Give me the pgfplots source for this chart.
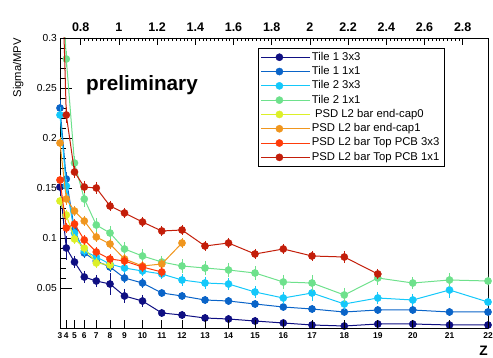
\documentclass[border=0pt]{standalone}
\usepackage{fontspec}
\setmainfont{Liberation Sans}
\usepackage{pgfplots}
\usepackage{pgfplotstable}
\pgfplotsset{compat=1.18}

\definecolor{cNavy}{RGB}{15,15,130}
\definecolor{cBlue}{RGB}{10,100,200}
\definecolor{cCyan}{RGB}{20,200,250}
\definecolor{cGreen}{RGB}{110,225,140}
\definecolor{cYellow}{RGB}{220,240,40}
\definecolor{cOrange}{RGB}{240,150,30}
\definecolor{cRedOr}{RGB}{255,60,10}
\definecolor{cDkRed}{RGB}{195,30,10}

% x = position of each Z on the horizontal axis (Z = 3 ... 22)
\pgfplotstableread{
x y e
60 0.151 0.004
66.3 0.090 0.010
74.5 0.076 0.004
84.3 0.061 0.004
96.3 0.057 0.004
110 0.054 0.009
124.5 0.042 0.005
142.5 0.037 0.004
161.8 0.025 0.002
182 0.023 0.002
205 0.020 0.002
228.5 0.019 0.002
255 0.017 0.002
283.3 0.015 0.002
312 0.013 0.002
344.3 0.012 0.002
377.8 0.014 0.002
412.8 0.014 0.002
449.5 0.013 0.002
488 0.013 0.002
}\tA
\pgfplotstableread{
x y e
60 0.230 0.006
66.3 0.159 0.005
74.5 0.108 0.004
84.3 0.085 0.003
96.3 0.077 0.003
110 0.071 0.003
124.5 0.060 0.003
142.5 0.055 0.003
161.8 0.045 0.002
182 0.042 0.002
205 0.038 0.002
228.5 0.037 0.002
255 0.034 0.002
283.3 0.031 0.002
312 0.029 0.002
344.3 0.026 0.002
377.8 0.028 0.002
412.8 0.028 0.002
449.5 0.026 0.002
488 0.026 0.002
}\tB
\pgfplotstableread{
x y e
60 0.223 0.006
66.3 0.152 0.005
74.5 0.105 0.004
84.3 0.087 0.003
96.3 0.081 0.003
110 0.074 0.003
124.5 0.070 0.003
142.5 0.067 0.003
161.8 0.064 0.003
182 0.058 0.004
205 0.055 0.004
228.5 0.054 0.004
255 0.046 0.004
283.3 0.040 0.004
312 0.045 0.006
344.3 0.034 0.004
377.8 0.040 0.004
412.8 0.038 0.004
449.5 0.048 0.006
488 0.036 0.004
}\tC
\pgfplotstableread{
x y e
60 0.400 0.010
66.3 0.279 0.006
74.5 0.175 0.005
84.3 0.139 0.006
96.3 0.113 0.005
110 0.105 0.005
124.5 0.089 0.005
142.5 0.082 0.005
161.8 0.076 0.004
182 0.072 0.005
205 0.070 0.005
228.5 0.068 0.005
255 0.065 0.005
283.3 0.056 0.005
312 0.055 0.006
344.3 0.043 0.005
377.8 0.060 0.005
412.8 0.055 0.004
449.5 0.058 0.005
488 0.057 0.005
}\tD
\pgfplotstableread{
x y e
60 0.137 0.003
66.3 0.123 0.003
74.5 0.099 0.003
84.3 0.090 0.003
96.3 0.075 0.003
110 0.073 0.003
}\tE
\pgfplotstableread{
x y e
60 0.195 0.004
66.3 0.139 0.004
74.5 0.127 0.003
84.3 0.117 0.003
96.3 0.101 0.003
110 0.094 0.003
124.5 0.079 0.003
142.5 0.072 0.003
161.8 0.074 0.003
182 0.095 0.003
}\tF
\pgfplotstableread{
x y e
60 0.158 0.003
66.3 0.110 0.003
74.5 0.114 0.003
84.3 0.098 0.003
96.3 0.086 0.003
110 0.079 0.003
124.5 0.077 0.003
142.5 0.071 0.003
161.8 0.066 0.003
}\tG
\pgfplotstableread{
x y e
60 0.440 0.010
66.3 0.223 0.006
74.5 0.166 0.004
84.3 0.151 0.004
96.3 0.150 0.004
110 0.132 0.003
124.5 0.125 0.003
142.5 0.116 0.003
161.8 0.107 0.003
182 0.108 0.003
205 0.092 0.003
228.5 0.095 0.003
255 0.084 0.003
283.3 0.089 0.003
312 0.082 0.003
344.3 0.081 0.004
377.8 0.064 0.003
}\tH

\pgfplotsset{
  ser/.style={color=#1, solid, mark=*, mark size=3.6pt, line width=1.0pt,
    mark options={solid, fill=#1, draw=#1, line width=0.4pt},
    error bars/.cd, y dir=both, y explicit,
    error bar style={line width=0.8pt, color=#1, solid},
    error mark options={line width=0.8pt, mark size=2pt, color=#1, solid}},
  frame/.style={width=428pt, height=290pt, scale only axis, at={(0,0)}, anchor=south west},
}
\newcommand{\legtxt}[1]{\makebox[128pt][l]{#1}}

\begin{document}
\begin{tikzpicture}
\useasboundingbox (-60pt,-30pt) rectangle (433pt,328pt);
% main axis with data
\begin{axis}[frame,
  xmin=60, xmax=488, ymin=0.01, ymax=0.3,
  xtick=\empty,
  ytick={0.05,0.1,0.15,0.2,0.25,0.3},
  yticklabels={0.05,0.1,0.15,0.2,0.25,0.3},
  minor y tick num=4,
  ytick pos=left, tick align=inside,
  major tick length=12pt, minor tick length=6pt,
  every tick/.style={black, line width=0.8pt},
  axis line style={line width=0.9pt},
  yticklabel style={font=\fontsize{10.2}{12}\selectfont, inner sep=3pt},
  ylabel={Sigma/MPV},
  ylabel style={at={(axis description cs:-0.0911,1)}, anchor=base east, inner sep=0pt,
    font=\fontsize{11.2}{13}\selectfont},
  clip mode=individual,
  legend cell align=left,
  legend image code/.code={\path (0pt,0pt) -- (48.25pt,0pt);
    \draw[mark repeat=2,mark phase=2,line width=1.0pt] plot coordinates {(0pt,0pt) (18pt,0pt) (36pt,0pt)};},
  legend style={at={(axis cs:258,0.2903)}, anchor=north west, draw=black, line width=0.8pt,
    font=\fontsize{11.3}{13}\selectfont, inner xsep=2.5pt, inner ysep=2pt,
    nodes={text height=8.2pt, text depth=2.3pt, inner ysep=1.9pt, inner xsep=1.75pt},
    column sep=0pt},
]
\addplot[ser=cNavy] table[x=x, y=y, y error=e]{\tA};
\addlegendentry{\legtxt{Tile 1 3x3}}
\addplot[ser=cBlue] table[x=x, y=y, y error=e]{\tB};
\addlegendentry{\legtxt{Tile 1 1x1}}
\addplot[ser=cCyan] table[x=x, y=y, y error=e]{\tC};
\addlegendentry{\legtxt{Tile 2 3x3}}
\addplot[ser=cGreen] table[x=x, y=y, y error=e]{\tD};
\addlegendentry{\legtxt{Tile 2 1x1}}
\addplot[ser=cYellow] table[x=x, y=y, y error=e]{\tE};
\addlegendentry{\legtxt{\ PSD L2 bar end-cap0}}
\addplot[ser=cOrange] table[x=x, y=y, y error=e]{\tF};
\addlegendentry{\legtxt{PSD L2 bar end-cap1}}
\addplot[ser=cRedOr] table[x=x, y=y, y error=e]{\tG};
\addlegendentry{\legtxt{PSD L2 bar Top PCB 3x3}}
\addplot[ser=cDkRed] table[x=x, y=y, y error=e]{\tH};
\addlegendentry{\legtxt{PSD L2 bar Top PCB 1x1}}
\node[anchor=base west, font=\fontsize{20.7}{24}\selectfont\bfseries, inner sep=0pt] at (axis cs:86,0.247) {preliminary};
\node[anchor=base east, font=\fontsize{13.7}{16}\selectfont\bfseries, inner sep=0pt] at ([yshift=-27.5pt]rel axis cs:1,0) {Z};
\end{axis}
% bottom Z ticks
\begin{axis}[frame,
  xmin=60, xmax=488, ymin=0, ymax=1,
  axis x line*=bottom, axis y line=none,
  xtick={60,66.3,74.5,84.3,96.3,110,124.5,142.5,161.8,182,205,228.5,255,283.3,312,344.3,377.8,412.8,449.5,488},
  xticklabels={3,4,5,6,7,8,9,10,11,12,13,14,15,16,17,18,19,20,21,22},
  tick align=inside, major tick length=8pt,
  every tick/.style={black, line width=0.8pt},
  axis line style={line width=0.9pt},
  xticklabel style={font=\fontsize{8.4}{10}\selectfont\bfseries, inner sep=0pt, yshift=-4.5pt},
]
\end{axis}
% top dE/dX axis
\begin{axis}[frame,
  xmin=0.6916, xmax=2.9325, ymin=0, ymax=1,
  axis x line*=top, axis y line=none,
  xtick={0.8,1,1.2,1.4,1.6,1.8,2,2.2,2.4,2.6,2.8},
  xticklabels={0.8,1,1.2,1.4,1.6,1.8,2,2.2,2.4,2.6,2.8},
  minor x tick num=9,
  tick align=inside, major tick length=7pt, minor tick length=3.5pt,
  every tick/.style={black, line width=0.6pt},
  axis line style={line width=0.9pt},
  xticklabel style={font=\fontsize{12.5}{14}\selectfont\bfseries, inner sep=0pt, yshift=6.5pt, anchor=base},
]
\node[anchor=base east, font=\fontsize{13.7}{16}\selectfont\bfseries, inner sep=0pt] at ([yshift=19pt]rel axis cs:1,1) {dE/dX [MeV/mm]};
\end{axis}
\end{tikzpicture}
\end{document}
